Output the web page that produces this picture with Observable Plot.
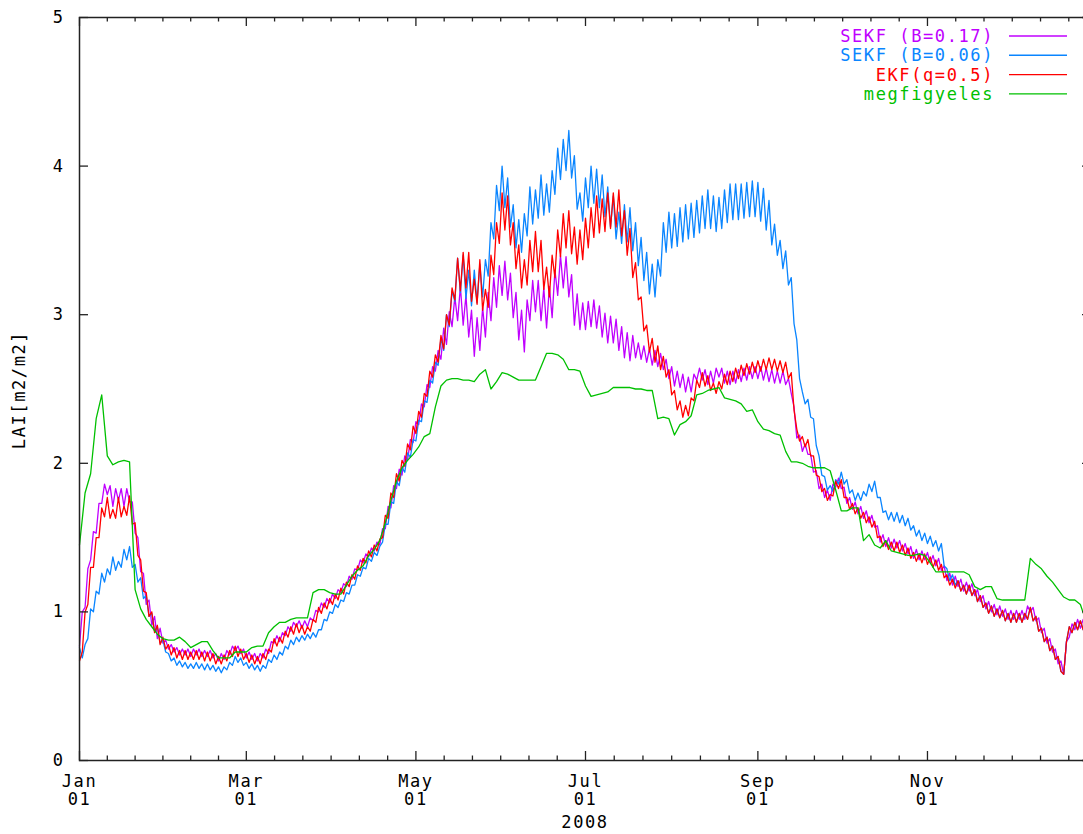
<!DOCTYPE html>
<html><head><meta charset="utf-8">
<script src="https://cdn.jsdelivr.net/npm/d3@7"></script>
<script src="https://cdn.jsdelivr.net/npm/@observablehq/plot@0.6"></script>
<style>
html,body{margin:0;padding:0;background:#fff;}
#wrap{width:1083px;height:834px;overflow:hidden;position:relative;}
#wrap svg{overflow:hidden;max-width:none;}
#wrap svg text{font-family:"DejaVu Sans Mono",monospace;font-size:17px;letter-spacing:1.6px;}
</style></head><body><div id="wrap"></div>
<script>
const startDate = "2008-01-01";
const filterStepDays = 1;   // SEKF / EKF series: one value per day
const obsStepDays = 2;      // observation series: one value every 2 days
const xEnd = "2008-12-30";

const sekf017 = [
0.77,1.00,1.03,1.29,1.35,1.54,1.53,1.73,1.73,1.86,
1.79,1.85,1.71,1.83,1.75,1.83,1.71,1.83,1.74,1.74,
1.53,1.50,1.27,1.26,1.05,1.08,0.91,0.97,0.82,0.89,
0.79,0.81,0.75,0.78,0.73,0.76,0.71,0.75,0.71,0.75,
0.70,0.75,0.71,0.75,0.70,0.74,0.70,0.74,0.69,0.72,
0.67,0.72,0.68,0.74,0.71,0.77,0.74,0.77,0.72,0.75,
0.69,0.73,0.68,0.72,0.67,0.72,0.69,0.75,0.72,0.80,
0.79,0.84,0.80,0.86,0.84,0.90,0.87,0.93,0.90,0.94,
0.89,0.94,0.90,0.96,0.94,1.01,1.00,1.06,1.03,1.09,
1.06,1.12,1.09,1.15,1.13,1.19,1.17,1.24,1.22,1.29,
1.28,1.35,1.33,1.39,1.37,1.43,1.41,1.47,1.45,1.56,
1.56,1.71,1.70,1.85,1.83,1.96,1.92,2.05,2.02,2.16,
2.14,2.28,2.26,2.40,2.38,2.53,2.51,2.65,2.62,2.76,
2.70,2.91,2.80,3.02,2.92,3.12,2.96,3.19,2.93,3.13,
2.85,3.03,2.72,2.98,2.76,3.05,2.85,3.15,2.96,3.25,
3.05,3.33,3.13,3.36,3.10,3.28,2.98,3.15,2.83,3.03,
2.75,3.10,2.96,3.23,3.02,3.23,2.96,3.18,2.91,3.19,
2.98,3.30,3.13,3.40,3.18,3.39,3.12,3.27,2.93,3.14,
2.90,3.08,2.90,3.09,2.92,3.10,2.91,3.06,2.85,3.01,
2.81,2.99,2.81,2.97,2.76,2.92,2.71,2.88,2.69,2.86,
2.71,2.81,2.70,2.79,2.68,2.77,2.66,2.76,2.65,2.74,
2.63,2.70,2.57,2.65,2.52,2.62,2.51,2.60,2.48,2.58,
2.48,2.60,2.56,2.64,2.56,2.63,2.53,2.62,2.54,2.64,
2.58,2.64,2.54,2.62,2.53,2.62,2.54,2.63,2.55,2.64,
2.56,2.65,2.57,2.65,2.57,2.65,2.56,2.64,2.55,2.63,
2.54,2.62,2.54,2.62,2.53,2.57,2.47,2.38,2.17,2.19,
2.08,2.13,2.06,2.06,1.94,1.95,1.83,1.86,1.77,1.82,
1.75,1.86,1.84,1.90,1.83,1.84,1.73,1.77,1.69,1.74,
1.66,1.71,1.63,1.68,1.60,1.65,1.57,1.58,1.47,1.52,
1.44,1.50,1.43,1.49,1.43,1.48,1.41,1.46,1.39,1.44,
1.36,1.42,1.35,1.41,1.35,1.40,1.33,1.38,1.31,1.36,
1.28,1.31,1.21,1.26,1.18,1.24,1.17,1.22,1.14,1.20,
1.14,1.19,1.11,1.15,1.07,1.11,1.02,1.07,1.00,1.05,
0.98,1.04,0.97,1.02,0.95,1.01,0.95,1.01,0.95,1.01,
0.95,1.04,1.00,1.03,0.94,0.96,0.86,0.89,0.79,0.82,
0.73,0.75,0.65,0.67,0.58,0.80,0.83,0.92,0.88,0.95,
0.89,0.95,0.88,0.94,0.88,0.94];

const sekf006 = [
0.76,0.69,0.78,0.82,1.02,1.00,1.14,1.12,1.26,1.20,
1.29,1.25,1.37,1.28,1.34,1.30,1.42,1.35,1.44,1.30,
1.32,1.20,1.23,1.09,1.11,0.97,0.99,0.87,0.90,0.79,
0.81,0.73,0.72,0.67,0.69,0.64,0.67,0.63,0.66,0.62,
0.65,0.62,0.66,0.62,0.65,0.61,0.65,0.61,0.64,0.60,
0.63,0.59,0.63,0.61,0.66,0.64,0.70,0.66,0.69,0.64,
0.66,0.62,0.65,0.61,0.64,0.60,0.64,0.62,0.68,0.66,
0.71,0.68,0.73,0.71,0.77,0.75,0.81,0.78,0.83,0.80,
0.84,0.81,0.85,0.82,0.86,0.83,0.88,0.88,0.95,0.94,
1.00,0.99,1.05,1.03,1.08,1.07,1.13,1.12,1.18,1.18,
1.25,1.24,1.30,1.29,1.36,1.34,1.40,1.38,1.44,1.47,
1.59,1.59,1.74,1.73,1.88,1.85,1.97,1.94,2.07,2.04,
2.16,2.15,2.29,2.28,2.42,2.41,2.56,2.54,2.68,2.66,
2.84,2.76,3.00,2.92,3.16,3.09,3.38,3.15,3.40,3.11,
3.30,3.06,3.30,3.08,3.34,3.12,3.37,3.26,3.62,3.51,
3.87,3.70,4.00,3.72,3.92,3.59,3.74,3.45,3.64,3.42,
3.68,3.53,3.86,3.61,3.84,3.65,3.94,3.67,3.88,3.69,
3.97,3.81,4.12,3.91,4.18,3.97,4.24,3.92,4.07,3.71,
3.82,3.63,3.92,3.72,4.00,3.75,3.98,3.72,3.94,3.66,
3.86,3.59,3.80,3.51,3.69,3.48,3.74,3.49,3.72,3.43,
3.62,3.33,3.52,3.23,3.42,3.14,3.34,3.12,3.37,3.26,
3.62,3.42,3.69,3.45,3.68,3.46,3.72,3.49,3.74,3.51,
3.75,3.52,3.77,3.55,3.80,3.58,3.84,3.58,3.80,3.56,
3.79,3.58,3.84,3.62,3.88,3.64,3.88,3.64,3.88,3.65,
3.89,3.66,3.90,3.66,3.89,3.63,3.85,3.57,3.77,3.47,
3.61,3.40,3.50,3.31,3.43,3.20,3.25,2.94,2.83,2.57,
2.48,2.40,2.43,2.31,2.30,2.12,2.05,1.92,1.91,1.82,
1.85,1.81,1.89,1.86,1.94,1.86,1.89,1.80,1.82,1.75,
1.80,1.75,1.81,1.78,1.86,1.81,1.88,1.77,1.77,1.67,
1.68,1.62,1.67,1.61,1.67,1.60,1.65,1.58,1.63,1.55,
1.58,1.51,1.55,1.48,1.53,1.46,1.51,1.44,1.48,1.41,
1.46,1.31,1.29,1.21,1.25,1.18,1.21,1.14,1.18,1.12,
1.18,1.11,1.15,1.07,1.11,1.03,1.06,0.99,1.04,0.97,
1.02,0.96,1.01,0.94,0.99,0.93,0.99,0.93,0.99,0.93,
0.99,0.95,1.03,0.94,0.97,0.87,0.89,0.80,0.83,0.74,
0.77,0.68,0.70,0.60,0.58,0.80,0.90,0.86,0.93,0.88,
0.94,0.88,0.93,0.87,0.93,0.88];

const ekf05 = [
0.67,0.73,1.00,1.05,1.30,1.30,1.50,1.50,1.70,1.64,
1.77,1.63,1.69,1.63,1.77,1.64,1.71,1.65,1.78,1.59,
1.60,1.38,1.35,1.14,1.13,0.97,1.00,0.86,0.91,0.78,
0.83,0.75,0.78,0.71,0.76,0.69,0.74,0.68,0.74,0.68,
0.73,0.68,0.74,0.68,0.73,0.67,0.73,0.67,0.72,0.65,
0.70,0.65,0.71,0.67,0.74,0.70,0.77,0.70,0.75,0.68,
0.72,0.66,0.71,0.65,0.70,0.65,0.72,0.68,0.75,0.73,
0.82,0.77,0.83,0.79,0.87,0.83,0.90,0.85,0.92,0.86,
0.91,0.85,0.90,0.87,0.95,0.93,1.03,0.99,1.06,1.02,
1.09,1.05,1.12,1.08,1.16,1.12,1.20,1.17,1.25,1.22,
1.31,1.28,1.36,1.33,1.41,1.37,1.45,1.41,1.49,1.50,
1.65,1.63,1.80,1.77,1.93,1.88,2.02,1.98,2.13,2.09,
2.25,2.20,2.35,2.31,2.47,2.45,2.62,2.58,2.73,2.68,
2.86,2.77,3.00,2.93,3.18,3.10,3.38,3.16,3.42,3.18,
3.42,3.09,3.24,3.07,3.37,3.03,3.17,3.05,3.40,3.27,
3.62,3.48,3.82,3.57,3.80,3.47,3.62,3.31,3.47,3.18,
3.37,3.20,3.50,3.29,3.56,3.29,3.50,3.17,3.32,3.12,
3.40,3.25,3.57,3.39,3.68,3.45,3.70,3.41,3.59,3.34,
3.57,3.37,3.65,3.45,3.72,3.52,3.80,3.55,3.78,3.56,
3.82,3.58,3.82,3.59,3.84,3.53,3.70,3.40,3.58,3.25,
3.35,3.10,3.12,2.89,2.93,2.75,2.84,2.68,2.79,2.63,
2.72,2.58,2.63,2.46,2.49,2.36,2.42,2.31,2.39,2.32,
2.44,2.42,2.56,2.51,2.61,2.52,2.59,2.49,2.54,2.47,
2.55,2.50,2.60,2.53,2.62,2.55,2.64,2.57,2.66,2.59,
2.67,2.60,2.68,2.61,2.69,2.62,2.70,2.63,2.71,2.63,
2.70,2.62,2.69,2.61,2.68,2.57,2.61,2.36,2.23,2.15,
2.18,2.11,2.16,2.05,2.05,1.92,1.91,1.81,1.83,1.75,
1.79,1.78,1.88,1.83,1.89,1.77,1.77,1.69,1.73,1.66,
1.70,1.63,1.67,1.60,1.64,1.57,1.61,1.50,1.51,1.44,
1.48,1.42,1.47,1.41,1.47,1.40,1.45,1.38,1.43,1.36,
1.40,1.34,1.39,1.33,1.39,1.32,1.37,1.30,1.35,1.28,
1.32,1.23,1.25,1.18,1.22,1.16,1.21,1.14,1.18,1.12,
1.18,1.11,1.15,1.07,1.11,1.03,1.06,0.99,1.04,0.97,
1.02,0.96,1.01,0.94,0.99,0.93,0.99,0.93,0.99,0.93,
0.99,0.95,1.03,0.94,0.97,0.87,0.89,0.80,0.83,0.74,
0.77,0.68,0.70,0.60,0.58,0.80,0.90,0.86,0.93,0.88,
0.94,0.88,0.93,0.87,0.93,0.88];

const megfigyeles = [
1.45,1.80,1.93,2.30,2.46,2.05,1.99,2.01,2.02,2.01,
1.15,1.02,0.95,0.90,0.85,0.82,0.81,0.81,0.83,0.80,
0.76,0.78,0.80,0.80,0.74,0.69,0.69,0.69,0.73,0.73,
0.73,0.76,0.77,0.77,0.86,0.90,0.93,0.93,0.95,0.96,
0.96,0.96,1.13,1.15,1.15,1.13,1.12,1.12,1.18,1.24,
1.28,1.31,1.38,1.42,1.48,1.60,1.75,1.88,1.97,2.02,
2.06,2.11,2.18,2.20,2.38,2.52,2.56,2.57,2.57,2.56,
2.56,2.55,2.60,2.63,2.50,2.55,2.61,2.60,2.58,2.56,
2.56,2.56,2.56,2.65,2.74,2.74,2.73,2.70,2.63,2.63,
2.62,2.52,2.45,2.46,2.47,2.48,2.51,2.51,2.51,2.51,
2.50,2.50,2.49,2.49,2.30,2.31,2.30,2.19,2.26,2.28,
2.32,2.46,2.47,2.49,2.50,2.51,2.44,2.43,2.42,2.40,
2.35,2.36,2.28,2.23,2.22,2.20,2.19,2.08,2.01,2.01,
2.00,1.98,1.97,1.97,1.97,1.95,1.82,1.68,1.68,1.70,
1.70,1.48,1.52,1.45,1.43,1.48,1.41,1.40,1.39,1.38,
1.38,1.39,1.38,1.33,1.27,1.27,1.27,1.27,1.27,1.27,
1.25,1.17,1.15,1.17,1.17,1.09,1.08,1.08,1.08,1.08,
1.08,1.36,1.32,1.29,1.24,1.20,1.15,1.10,1.08,1.08,
1.05,0.94,0.94];

const seriesNames = ["SEKF (B=0.17)", "SEKF (B=0.06)", "EKF(q=0.5)", "megfigyeles"];
const seriesColors = ["#c000ff", "#0a85ff", "#ff0000", "#00c000"];
const majorTicks = ["2008-01-01","2008-03-01","2008-05-01","2008-07-01","2008-09-01","2008-11-01","2009-01-01"];
const labelTicks = ["2008-01-01","2008-03-01","2008-05-01","2008-07-01","2008-09-01","2008-11-01"];
const yTicks = [0, 1, 2, 3, 4, 5];
const xTitle = "2008";
const yTitle = "LAI[m2/m2]";

const t0 = new Date(startDate);
function rows(values, step) {
  return values.map((v, i) => ({date: d3.utcDay.offset(t0, i * step), value: v}));
}
const allSeries = [
  rows(sekf017, filterStepDays),
  rows(sekf006, filterStepDays),
  rows(ekf05, filterStepDays),
  rows(megfigyeles, obsStepDays)
];

const majors = majorTicks.map(d => new Date(d));
const labelDates = labelTicks.map(d => new Date(d));
const minors = [];
for (let i = 0; i < majors.length - 1; i++) {
  const a = +majors[i], b = +majors[i + 1];
  for (let k = 1; k < 6; k++) minors.push(new Date(a + (b - a) * k / 6));
}

const W = 1083, H = 834, mL = 79, mT = 17, mB = 74, mR = -8;
const frameW = W - mL - mR, frameH = H - mT - mB;
const ink = "#222";

const chart = Plot.plot({
  width: W, height: H,
  marginLeft: mL, marginRight: mR, marginTop: mT, marginBottom: mB,
  x: {type: "utc", domain: [t0, new Date(xEnd)]},
  y: {domain: [0, 5]},
  style: {background: "white", color: "black"},
  marks: [
    ...allSeries.map((data, i) => Plot.line(data, {x: "date", y: "value", stroke: seriesColors[i], strokeWidth: 1.3})),
    Plot.ruleX(majors, {x: d => d, insetTop: frameH - 9, stroke: ink, strokeWidth: 1.3}),
    Plot.ruleX(majors, {x: d => d, insetBottom: frameH - 9, stroke: ink, strokeWidth: 1.3}),
    Plot.ruleX(minors, {x: d => d, insetTop: frameH - 4.5, stroke: ink, strokeWidth: 1.3}),
    Plot.ruleX(minors, {x: d => d, insetBottom: frameH - 4.5, stroke: ink, strokeWidth: 1.3}),
    Plot.ruleY(yTicks, {y: d => d, insetRight: frameW - 9, stroke: ink, strokeWidth: 1.3}),
    Plot.ruleY(yTicks, {y: d => d, insetLeft: frameW - 9, stroke: ink, strokeWidth: 1.3}),
    Plot.frame({stroke: ink, strokeWidth: 1.5}),
    Plot.axisX({ticks: labelDates, tickSize: 0, tickPadding: 13, tickFormat: d3.utcFormat("%b\n%d"), lineHeight: 1.08, label: null}),
    Plot.axisY({ticks: yTicks, tickSize: 0, tickPadding: 15, tickFormat: d => String(d), label: null})
  ]
});

document.getElementById("wrap").appendChild(chart);
const svg = d3.select(chart);
seriesNames.forEach((name, i) => {
  const y = 36 + i * 19.3;
  svg.append("text").attr("x", 994).attr("y", y).attr("dy", "0.35em")
    .attr("text-anchor", "end").attr("fill", seriesColors[i]).text(name);
  svg.append("line").attr("x1", 1009).attr("x2", 1067).attr("y1", y).attr("y2", y)
    .attr("stroke", seriesColors[i]).attr("stroke-width", 1.4);
});
svg.append("text").attr("transform", "translate(19,390) rotate(-90)")
  .attr("text-anchor", "middle").attr("dy", "0.35em").attr("fill", "black").text(yTitle);
svg.append("text").attr("x", 585).attr("y", 822).attr("dy", "0.35em")
  .attr("text-anchor", "middle").attr("fill", "black").text(xTitle);
</script></body></html>
